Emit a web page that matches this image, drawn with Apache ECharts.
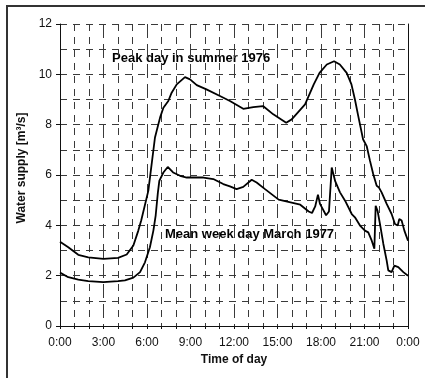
<!DOCTYPE html>
<html>
<head>
<meta charset="utf-8">
<script src="https://cdn.jsdelivr.net/npm/echarts@6/dist/echarts.min.js"></script>
<style>
html,body{margin:0;padding:0;background:#fff;}
#chart{width:425px;height:378px;}
</style>
</head>
<body>
<div id="chart"></div>
<script>
// Tick labels
var xTickLabels = ['0:00','3:00','6:00','9:00','12:00','15:00','18:00','21:00','0:00'];
var xAxisTitle = 'Time of day';
var yAxisTitle = 'Water supply [m³/s]';
var peakLabel = 'Peak day in summer 1976';
var meanLabel = 'Mean week day March 1977';

// Peak day in summer 1976 (hour, m3/s)
var peakHours = [0,0.57,1.26,1.95,3.0,4.0,4.6,5.06,5.4,5.6,6.09,6.55,6.9,7.13,7.47,7.7,8.05,8.62,8.97,9.43,10.1,11.03,11.72,12.64,13.33,14.0,14.71,15.6,15.98,16.9,17.5,17.9,18.4,18.9,19.3,19.77,20.1,20.34,20.57,20.9,21.15,21.38,21.6,21.84,22.0,22.18,22.53,22.87,23.1,23.29,23.4,23.56,23.75,24];
var peakValues = [3.35,3.13,2.83,2.73,2.67,2.71,2.84,3.2,3.79,4.19,5.37,7.49,8.28,8.67,8.94,9.27,9.6,9.89,9.8,9.57,9.4,9.14,8.94,8.63,8.7,8.74,8.41,8.08,8.21,8.81,9.6,10.06,10.39,10.52,10.39,10.06,9.6,9.0,8.34,7.42,7.15,6.56,6.04,5.57,5.5,5.31,4.85,4.45,4.05,3.99,4.25,4.19,3.79,3.39];

// Mean week day March 1977 (hour, m3/s)
var meanHours = [0,0.57,1.26,1.95,2.99,4.0,4.48,5.06,5.52,5.86,6.2,6.44,6.6,6.75,6.85,7.13,7.43,7.8,8.28,8.74,9.89,10.57,11.26,11.72,12.18,12.64,13.22,13.56,14.14,15.08,16.57,17.15,17.38,17.6,17.79,17.93,18.35,18.55,18.74,18.97,19.31,19.66,20.12,20.34,20.69,21.03,21.26,21.5,21.68,21.77,21.9,22.07,22.3,22.53,22.64,22.87,23.06,23.33,23.68,24];
var meanValues = [2.12,1.94,1.84,1.78,1.74,1.78,1.81,1.92,2.14,2.53,3.13,3.79,4.4,5.3,5.77,6.1,6.32,6.1,5.97,5.9,5.9,5.84,5.64,5.55,5.44,5.53,5.81,5.7,5.44,5.02,4.82,4.55,4.49,4.75,5.22,4.85,4.4,4.55,6.3,5.77,5.31,4.98,4.45,4.32,3.99,3.79,3.72,3.39,3.07,4.78,4.58,4.05,3.26,2.6,2.21,2.14,2.4,2.34,2.14,2.0];

function pairs(xs, ys){ return xs.map(function(x,i){ return [x, ys[i]]; }); }

var FONT = '"Liberation Sans", Arial, sans-serif';
var chart = echarts.init(document.getElementById('chart'), null, {renderer:'canvas'});
var gridDash = {color:'#3a3a3a', width:1, type:[7,6]};

chart.setOption({
  animation:false,
  backgroundColor:'#ffffff',
  grid:{left:60, right:17, top:24, bottom:52, containLabel:false},
  xAxis:{
    type:'value', min:0, max:24, interval:3,
    name:xAxisTitle, nameLocation:'middle', nameGap:26,
    nameTextStyle:{fontFamily:FONT, fontSize:12, fontWeight:'bold', color:'#111'},
    axisLine:{show:true, lineStyle:{color:'#111', width:1}},
    axisTick:{show:true, length:3, lineStyle:{color:'#111'}},
    minorTick:{show:true, splitNumber:3, length:3, lineStyle:{color:'#111'}},
    axisLabel:{fontFamily:FONT, fontSize:12, color:'#111', margin:11,
      formatter:function(v){ return xTickLabels[Math.round(v/3)]; }},
    splitLine:{show:true, lineStyle:{color:'#3a3a3a', width:1, type:[14,6]}},
    minorSplitLine:{show:true, lineStyle:gridDash}
  },
  yAxis:[{
    type:'value', min:0, max:12, interval:2,
    name:yAxisTitle, nameLocation:'middle', nameGap:25,
    nameTextStyle:{fontFamily:FONT, fontSize:12, fontWeight:'bold', color:'#111', padding:[0,0,0,14]},
    axisLine:{show:true, lineStyle:{color:'#111', width:1}},
    axisTick:{show:true, length:4, inside:false, lineStyle:{color:'#111'}},
    axisLabel:{fontFamily:FONT, fontSize:12, color:'#111', margin:8},
    splitLine:{show:true, lineStyle:gridDash},
    minorTick:{show:false, splitNumber:2},
    minorSplitLine:{show:true, lineStyle:gridDash}
  },{
    type:'value', min:0, max:12, interval:2, position:'right',
    axisLine:{show:true, lineStyle:{color:'#111', width:1}},
    axisTick:{show:false}, axisLabel:{show:false}, splitLine:{show:false}
  }],
  series:[{
    name:peakLabel, type:'line', showSymbol:false, symbol:'none',
    data:pairs(peakHours, peakValues),
    lineStyle:{color:'#000', width:1.8}
  },{
    name:meanLabel, type:'line', showSymbol:false, symbol:'none',
    data:pairs(meanHours, meanValues),
    lineStyle:{color:'#000', width:1.8}
  }],
  graphic:[
    {type:'rect', shape:{x:7, y:6, width:600, height:600}, style:{fill:'none', stroke:'#333', lineWidth:2}, silent:true},
    {type:'text', x:112, y:58.5, style:{text:peakLabel, font:'bold 13px ' + FONT, fill:'#000', textVerticalAlign:'middle', textAlign:'left'}},
    {type:'text', x:165, y:234, style:{text:meanLabel, font:'bold 13px ' + FONT, fill:'#000', textVerticalAlign:'middle', textAlign:'left'}}
  ]
});
</script>
</body>
</html>
